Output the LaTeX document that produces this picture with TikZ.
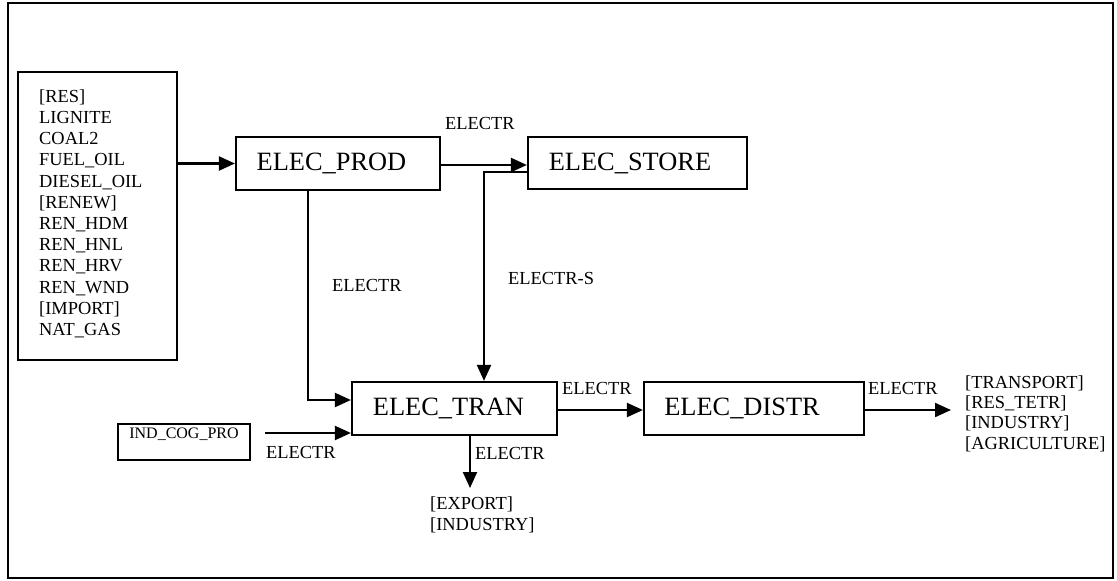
\documentclass[tikz,border=0pt]{standalone}
\usepackage{fontspec}
\setmainfont{Liberation Serif}
\usetikzlibrary{arrows.meta}
\begin{document}
\begin{tikzpicture}[x=1pt,y=-1pt,
  procbox/.style={draw,line width=2.2pt,inner sep=0pt,font=\fontsize{26.4}{30}\selectfont},
  listtxt/.style={inner sep=0pt,anchor=north west,align=left},
  lbl/.style={inner sep=0pt,anchor=base west,font=\fontsize{18.4}{20}\selectfont},
  arr/.style={line width=2.2pt,-{Triangle[length=16pt,width=14pt]}}]
\useasboundingbox (0,0) rectangle (1117,581);
\draw[line width=1.5pt] (8,3) rectangle (1113,578);

% source box
\node[draw,line width=2.2pt,minimum width=159pt,minimum height=288pt,inner sep=0pt] (src) at (97.5,216) {};
\node[listtxt,font=\fontsize{18.4}{21.2}\selectfont] (srctxt) at (39,87.3)
  {\strut[RES]\\LIGNITE\\COAL2\\FUEL\_OIL\\DIESEL\_OIL\\[0pt][RENEW]\\REN\_HDM\\REN\_HNL\\REN\_HRV\\REN\_WND\\[0pt][IMPORT]\\NAT\_GAS};

% process boxes
\node[procbox,minimum width=204pt,minimum height=53pt] (prod) at (338,163.5) {ELEC\_PROD\hspace*{13pt}};
\node[procbox,minimum width=219pt,minimum height=52pt] (store) at (637.5,163) {ELEC\_STORE\hspace*{15pt}};
\node[procbox,minimum width=205pt,minimum height=53pt] (tran) at (454.5,408.5) {ELEC\_TRAN\hspace*{12pt}};
\node[procbox,minimum width=220pt,minimum height=53pt] (distr) at (754,408.5) {ELEC\_DISTR\hspace*{24pt}};
\node[draw,line width=2.2pt,minimum width=132pt,inner sep=0pt,text height=14.3pt,text depth=21.7pt,
      font=\fontsize{16}{18}\selectfont] (ind) at (184,442) {IND\_COG\_PRO};

% free ends
\coordinate (indout) at (265,433);
\coordinate (distrout) at (951,410);
\coordinate (expend) at (470,488);

% connectors
\draw[arr] (src.east |- prod.west) -- (prod.west);
\draw[arr] ([yshift=-1.5pt]prod.east) -- ([yshift=-1.5pt]prod.east -| store.west);
\draw[arr] ([yshift=-9pt]store.west) -| ([xshift=29.5pt]tran.north);
\draw[arr] ([xshift=-30pt]prod.south) |- ([yshift=8.5pt]tran.west);
\draw[arr] (indout) -- (indout -| tran.west);
\draw[arr] ([yshift=-1.5pt]tran.east) -- ([yshift=-1.5pt]tran.east -| distr.west);
\draw[arr] ([yshift=-1.5pt]distr.east) -- ([yshift=-1.5pt]distr.east -| distrout);
\draw[arr] (tran.south -| expend) -- (expend);

% labels
\node[lbl] (l1) at (445,129.1) {ELECTR};
\node[lbl] (l2) at (332,291.1) {ELECTR};
\node[lbl] (l3) at (508,284.1) {ELECTR-S};
\node[lbl] (l4) at (562,394.1) {ELECTR};
\node[lbl] (l5) at (868,394.1) {ELECTR};
\node[lbl] (l6) at (475,459.1) {ELECTR};
\node[lbl] (l7) at (266,458.1) {ELECTR};

% outputs
\node[listtxt,font=\fontsize{18.4}{21}\selectfont] (exptxt) at (430,494.4)
  {\strut[EXPORT]\\[0pt][INDUSTRY]};
\node[listtxt,font=\fontsize{18.4}{20.3}\selectfont] (outtxt) at (965,373.9)
  {\strut[TRANSPORT]\\[0pt][RES\_TETR]\\[0pt][INDUSTRY]\\[0pt][AGRICULTURE]};
\end{tikzpicture}
\end{document}
